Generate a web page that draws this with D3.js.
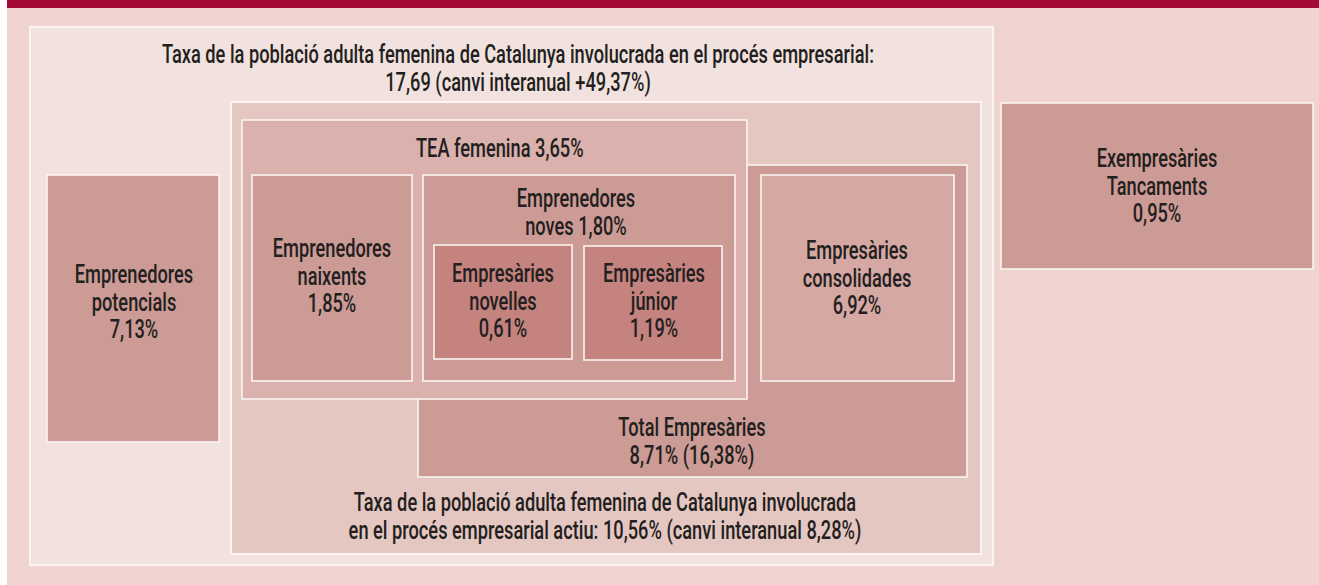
<!DOCTYPE html>
<html>
<head>
<meta charset="utf-8">
<script src="https://cdn.jsdelivr.net/npm/d3@7"></script>
<style>
  body { margin: 0; background: #fff; }
  svg { display: block; }
</style>
</head>
<body>
<svg width="1319" height="585"></svg>
<script>
// box ids, drawn in this order (later ones sit on top)
var boxIds = ["total", "potencials", "actiu", "empresaries", "tea", "naixents", "noves",
              "novelles", "junior", "consolidades", "exempresaries"];

// label lines, {v} is replaced by the formatted value, {c} by the second value
var boxLines = [
    ["Taxa de la població adulta femenina de Catalunya involucrada en el procés empresarial:", "{v} (canvi interanual +{c}%)"],
    ["Emprenedores", "potencials", "{v}%"],
    ["Taxa de la població adulta femenina de Catalunya involucrada", "en el procés empresarial actiu: {v}% (canvi interanual {c}%)"],
    ["Total Empresàries", "{v}% ({c}%)"],
    ["TEA femenina {v}%"],
    ["Emprenedores", "naixents", "{v}%"],
    ["Emprenedores", "noves {v}%"],
    ["Empresàries", "novelles", "{v}%"],
    ["Empresàries", "júnior", "{v}%"],
    ["Empresàries", "consolidades", "{v}%"],
    ["Exempresàries", "Tancaments", "{v}%"]
];

var boxValues = [17.69, 7.13, 10.56, 8.71, 3.65, 1.85, 1.80, 0.61, 1.19, 6.92, 0.95];
var boxSecond = [49.37, null, 8.28, 16.38, null, null, null, null, null, null, null];

// layout: rect corners, fill, text anchor x, first baseline
var layout = {
    total:         {x0: 30,   y0: 27,  x1: 993,  y1: 565, fill: "#f1e2df", tx: 518,  ty: 63,  anchor: "middle"},
    potencials:    {x0: 47,   y0: 175, x1: 219,  y1: 442, fill: "#cd9b95", tx: 134,  ty: 283, anchor: "middle"},
    actiu:         {x0: 231,  y0: 102, x1: 981,  y1: 554, fill: "#e5c7c2", tx: 605,  ty: 511, anchor: "middle"},
    empresaries:   {x0: 418,  y0: 165, x1: 967,  y1: 477, fill: "#cd9b95", tx: 692,  ty: 436, anchor: "middle"},
    tea:           {x0: 242,  y0: 120, x1: 747,  y1: 399, fill: "#dab1ad", tx: 416,  ty: 157, anchor: "start"},
    naixents:      {x0: 252,  y0: 175, x1: 412,  y1: 381, fill: "#cd9b95", tx: 332,  ty: 257, anchor: "middle"},
    noves:         {x0: 423,  y0: 175, x1: 735,  y1: 381, fill: "#cd9b95", tx: 576,  ty: 207, anchor: "middle"},
    novelles:      {x0: 434,  y0: 245, x1: 572,  y1: 359, fill: "#c4837e", tx: 503,  ty: 282, anchor: "middle"},
    junior:        {x0: 584,  y0: 246, x1: 722,  y1: 360, fill: "#c4837e", tx: 654,  ty: 282, anchor: "middle"},
    consolidades:  {x0: 761,  y0: 175, x1: 954,  y1: 381, fill: "#d5a8a3", tx: 857,  ty: 259, anchor: "middle"},
    exempresaries: {x0: 1001, y0: 103, x1: 1313, y1: 269, fill: "#cd9b95", tx: 1157, ty: 167, anchor: "middle"}
};

var lineHeight = 27.5;
var squeeze = 0.73;   // horizontal condensing of the font

var locale = d3.formatLocale({decimal: ",", thousands: ".", grouping: [3], currency: ["", "€"]});
var fmt = locale.format(".2f");

var svg = d3.select("svg"),
    width = +svg.attr("width"),
    height = +svg.attr("height");

// page background and top band
svg.append("rect")
    .attr("x", 7).attr("y", 0)
    .attr("width", width - 7).attr("height", height)
    .attr("fill", "#f0d4d0");

svg.append("rect")
    .attr("x", 7).attr("y", 0)
    .attr("width", width - 7).attr("height", 8)
    .attr("fill", "#a50a37");

var boxes = boxIds.map((id, i) => ({
    id: id,
    lines: boxLines[i].map(s => s.replace("{v}", fmt(boxValues[i]))
                                  .replace("{c}", boxSecond[i] == null ? "" : fmt(boxSecond[i]))),
    l: layout[id]
}));

var g = svg.selectAll("g.box")
    .data(boxes)
    .enter().append("g")
    .attr("class", "box");

g.append("rect")
    .attr("x", d => d.l.x0)
    .attr("y", d => d.l.y0)
    .attr("width", d => d.l.x1 - d.l.x0)
    .attr("height", d => d.l.y1 - d.l.y0)
    .attr("fill", d => d.l.fill)
    .attr("stroke", "#fbf4f2")
    .attr("stroke-width", d => (d.id == "total" || d.id == "actiu") ? 2 : 1.6);

g.each(function(d) {
    var sel = d3.select(this);
    d.lines.forEach((line, k) => {
        sel.append("g")
            .attr("transform", `translate(${d.l.tx},${d.l.ty + k * lineHeight}) scale(${squeeze},1)`)
            .append("text")
            .attr("text-anchor", d.l.anchor)
            .attr("font-family", "Roboto, 'Open Sans', sans-serif")
            .attr("font-size", 25)
            .attr("font-weight", 500)
            .attr("fill", "#231f20")
            .text(line);
    });
});
</script>
</body>
</html>
